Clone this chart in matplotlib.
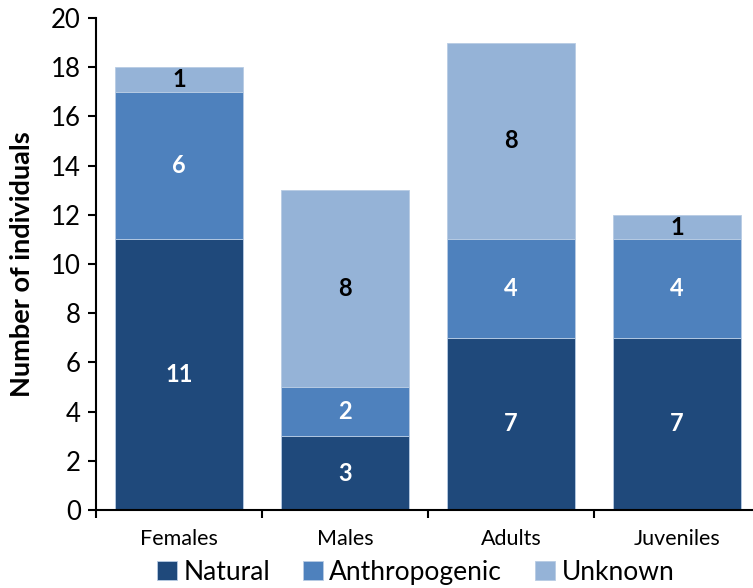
import matplotlib
matplotlib.use("Agg")
import matplotlib.pyplot as plt
import numpy as np

plt.rcParams['font.family'] = ['Lato', 'DejaVu Sans']

categories = ["Females", "Males", "Adults", "Juveniles"]
natural = [11, 3, 7, 7]
anthropogenic = [6, 2, 4, 4]
unknown = [1, 8, 8, 1]
series_names = ["Natural", "Anthropogenic", "Unknown"]
colors = ["#1F497B", "#4E81BD", "#95B3D7"]
label_colors = ["white", "white", "black"]

fig = plt.figure(figsize=(7.53, 5.88), dpi=100)
ax = fig.add_axes([0.1275, 0.1327, 0.8818, 0.8367])

x = np.arange(len(categories))
bottom = np.zeros(len(categories))
handles = []
for vals, name, col, lc in zip([natural, anthropogenic, unknown], series_names, colors, label_colors):
    bars = ax.bar(x, vals, width=0.77, bottom=bottom, color=col, edgecolor="#B8CCE4",
                  linewidth=0.6, label=name)
    for xi, v, b in zip(x, vals, bottom):
        ax.text(xi, b + v / 2, str(v), ha="center", va="center", color=lc,
                fontsize=17, fontweight="bold")
    handles.append(bars)
    bottom += np.array(vals)

ax.set_xlim(-0.5, 3.5)
ax.set_ylim(0, 20)
ax.set_yticks(np.arange(0, 21, 2))
ax.tick_params(axis="y", labelsize=18.5, length=6, width=1.5, direction="out", pad=5)
ax.set_xticks(x)
ax.set_xticklabels(categories, fontsize=15.5)
ax.tick_params(axis="x", which="major", length=0, pad=14)
ax.set_xticks(np.arange(-0.5, 4, 1), minor=True)
ax.tick_params(axis="x", which="minor", length=6, width=1.5, direction="out")
for s in ["top", "right"]:
    ax.spines[s].set_visible(False)
for s in ["left", "bottom"]:
    ax.spines[s].set_linewidth(1.5)
ax.set_ylabel("Number of individuals", fontsize=19.5, fontweight="bold", labelpad=12)

fig.legend(handles=handles, labels=series_names, loc="lower center",
           bbox_to_anchor=(0.552, -0.035), ncol=3, frameon=False, fontsize=19,
           handlelength=0.75, handleheight=0.75, handletextpad=0.25, columnspacing=1.25)

fig.savefig("out.png", dpi=100)
